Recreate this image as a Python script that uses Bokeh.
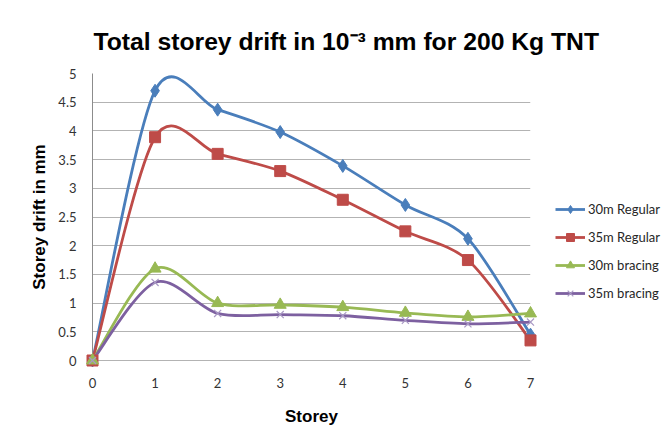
import numpy as np
from bokeh.plotting import figure
from bokeh.models import Range1d, FixedTicker, Legend, LegendItem, Title
from bokeh.embed import file_html
from bokeh.resources import INLINE

# ---- data ----
storeys = [0, 1, 2, 3, 4, 5, 6, 7]
drift_30m_regular = [0.0, 4.70, 4.37, 3.98, 3.39, 2.71, 2.12, 0.45]
drift_35m_regular = [0.0, 3.89, 3.60, 3.30, 2.80, 2.25, 1.75, 0.35]
drift_30m_bracing = [0.0, 1.60, 1.00, 0.97, 0.93, 0.83, 0.76, 0.82]
drift_35m_bracing = [0.0, 1.36, 0.82, 0.80, 0.78, 0.70, 0.64, 0.67]
series_names = ["30m Regular", "35m Regular", "30m bracing", "35m bracing"]
y_ticks = [0, 0.5, 1, 1.5, 2, 2.5, 3, 3.5, 4, 4.5, 5]
y_tick_labels = ["0", "0.5", "1", "1.5", "2", "2.5", "3", "3.5", "4", "4.5", "5"]
x_tick_labels = ["0", "1", "2", "3", "4", "5", "6", "7"]

colors = ["#4A7EBB", "#BE4B48", "#98B954", "#7D60A0"]
markers = ["diamond", "square", "triangle", "x"]
marker_sizes = [13, 11, 12, 10]

p = figure(frame_width=438, frame_height=287, output_backend="svg", toolbar_location=None,
           x_range=Range1d(0, 7), y_range=Range1d(0, 5),
           min_border_left=92, min_border_right=10, min_border_top=73, min_border_bottom=78)
p.outline_line_color = None
p.background_fill_color = "white"
p.border_fill_color = "white"

title = Title(text="Total storey drift in 10\u207B\u00B3 mm for 200 Kg TNT",
              text_font="Liberation Sans", text_font_size="24.7px",
              text_font_style="bold", text_color="black", align="left", offset=1,
              standoff=38)
p.add_layout(title, "above")

# grid
p.xgrid.visible = False
p.ygrid.ticker = FixedTicker(ticks=y_ticks)
p.ygrid.grid_line_color = "#B3B3B3"
p.ygrid.grid_line_width = 1

# axes
tick_font = "Lato"
p.yaxis.ticker = FixedTicker(ticks=y_ticks)
p.yaxis.major_label_overrides = {t: l for t, l in zip(y_ticks, y_tick_labels)}
p.xaxis.ticker = FixedTicker(ticks=storeys)
p.xaxis.major_label_overrides = {s: l for s, l in zip(storeys, x_tick_labels)}
for ax in (p.xaxis, p.yaxis):
    ax.axis_line_color = "#8C8C8C"
    ax.major_tick_line_color = None
    ax.minor_tick_line_color = None
    ax.major_label_text_font = tick_font
    ax.major_label_text_font_size = "13px"
    ax.major_label_text_color = "#333333"
    ax.axis_label_text_font = "Liberation Sans"
    ax.axis_label_text_font_style = "bold"
    ax.axis_label_text_font_size = "17px"
    ax.axis_label_text_color = "black"
p.xaxis.axis_label = "Storey"
p.yaxis.axis_label = "Storey drift in mm"
p.yaxis.major_label_standoff = 10
p.yaxis.axis_label_standoff = 6
p.xaxis.major_label_standoff = 11
p.xaxis.axis_label_standoff = 16
p.xaxis.axis_line_color = "#B3B3B3"

# smooth (Excel-like) curves via cubic Bezier glyphs
def bezier_parts(xs, ys):
    x = np.asarray(xs, float)
    y = np.asarray(ys, float)
    xp = np.concatenate([[x[0]], x, [x[-1]]])
    yp = np.concatenate([[y[0]], y, [y[-1]]])
    n = len(x)
    d = dict(x0=[], y0=[], x1=[], y1=[], cx0=[], cy0=[], cx1=[], cy1=[])
    k = 6.6
    for i in range(n - 1):
        p0x, p0y = xp[i], yp[i]
        p1x, p1y = xp[i + 1], yp[i + 1]
        p2x, p2y = xp[i + 2], yp[i + 2]
        p3x, p3y = xp[i + 3], yp[i + 3]
        d["x0"].append(p1x); d["y0"].append(p1y)
        d["x1"].append(p2x); d["y1"].append(p2y)
        d["cx0"].append(p1x + (p2x - p0x) / k); d["cy0"].append(p1y + (p2y - p0y) / k)
        d["cx1"].append(p2x - (p3x - p1x) / k); d["cy1"].append(p2y - (p3y - p1y) / k)
    return d

all_series = [drift_30m_regular, drift_35m_regular, drift_30m_bracing, drift_35m_bracing]
items = []
for name, vals, col, mk, ms in zip(series_names, all_series, colors, markers, marker_sizes):
    d = bezier_parts(storeys, vals)
    p.bezier(source=d, x0="x0", y0="y0", x1="x1", y1="y1", cx0="cx0", cy0="cy0",
             cx1="cx1", cy1="cy1", line_color=col, line_width=2.8)
    # single-point line: draws nothing in the plot, gives the legend its line sample
    proxy = p.line(x=storeys[:1], y=vals[:1], line_color=col, line_width=2.8)
    if mk == "x":
        sc = p.scatter(storeys, vals, marker=mk, size=ms, line_color="#A999C4",
                       line_width=1.2, level="overlay")
    else:
        sc = p.scatter(storeys, vals, marker=mk, size=ms, fill_color=col,
                       line_color=col, level="overlay")
    items.append(LegendItem(label=name, renderers=[proxy, sc]))

legend = Legend(items=items, location=(25, 57), orientation="vertical",
                glyph_width=30, glyph_height=20, spacing=8, padding=3,
                label_standoff=3, label_text_font=tick_font, label_text_font_size="13px",
                label_text_color="#262626", border_line_color=None,
                background_fill_alpha=0, margin=0)
p.add_layout(legend, "right")

open("out.html", "w").write(file_html(p, INLINE))
